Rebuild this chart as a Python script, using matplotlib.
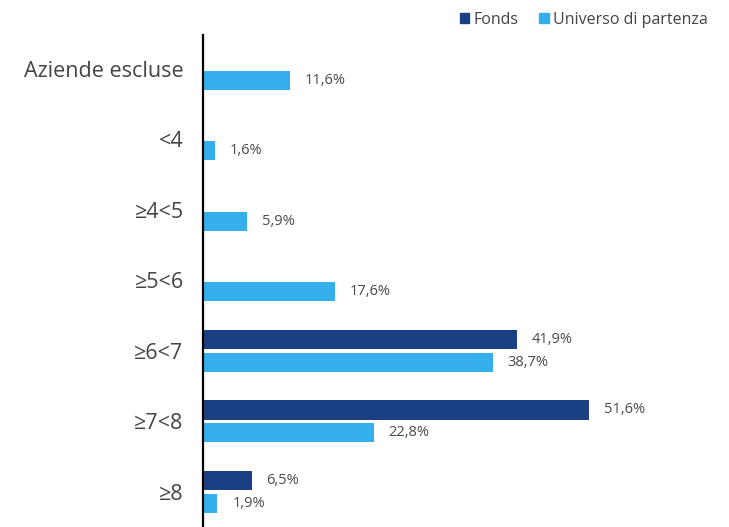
import numpy as np
import matplotlib.pyplot as plt
from matplotlib.patches import Patch

plt.rcParams['font.family'] = ['Open Sans', 'DejaVu Sans']

categories = ['Aziende escluse', '<4', '≥4<5', '≥5<6', '≥6<7', '≥7<8', '≥8']
fonds = [None, None, None, None, 41.9, 51.6, 6.5]
universo = [11.6, 1.6, 5.9, 17.6, 38.7, 22.8, 1.9]

col_fonds = '#1b3f83'
col_univ = '#34afec'

fig = plt.figure(figsize=(7.29, 5.27), dpi=100)
ax = fig.add_axes([203 / 729, 0, 526 / 729, 492 / 527])

y = np.arange(len(categories))
off = 0.16
h = 0.27

for i, v in enumerate(fonds):
    if v is None:
        continue
    ax.barh(y[i] - off, v, height=h, color=col_fonds)
    ax.text(v + 2.0, y[i] - off, f'{v:.1f}'.replace('.', ',') + '%',
            va='center', ha='left', fontsize=10.5, color='#4a4a4a')

ax.barh(y + off, universo, height=h, color=col_univ)
for i, v in enumerate(universo):
    ax.text(v + 2.0, y[i] + off, f'{v:.1f}'.replace('.', ',') + '%',
            va='center', ha='left', fontsize=10.5, color='#4a4a4a')

ax.set_ylim(6.5, -0.48)
ax.set_xlim(0, 70.3)
ax.set_yticks(y)
ax.set_yticklabels(categories, fontsize=15.5, color='#444444')
ax.tick_params(axis='y', length=0, pad=14)
ax.set_xticks([])
for s in ['top', 'right', 'bottom']:
    ax.spines[s].set_visible(False)
ax.spines['left'].set_linewidth(1.6)
ax.spines['left'].set_color('black')

handles = [Patch(color=col_fonds, label='Fonds'), Patch(color=col_univ, label='Universo di partenza')]
fig.legend(handles=handles, loc='upper right', bbox_to_anchor=(0.99, 1.005), ncol=2,
           frameon=False, fontsize=11.5, handlelength=0.6, handleheight=0.6,
           handletextpad=0.25, columnspacing=1.3, labelcolor='#444444')

fig.savefig('out.png', dpi=100)
